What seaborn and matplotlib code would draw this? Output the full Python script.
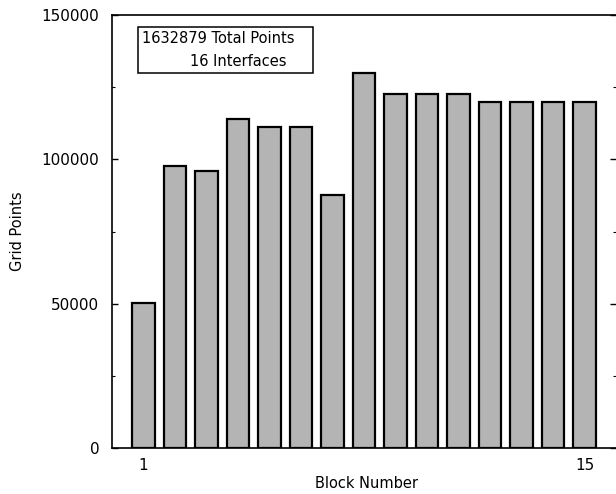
import pandas as pd
import matplotlib.pyplot as plt
import seaborn as sns
from matplotlib.patches import Rectangle
from matplotlib.ticker import MultipleLocator

# grid points per block
blocks = list(range(1, 16))
grid_points = [50300, 97800, 96100, 114100, 111200, 111200, 87600, 130000,
               122500, 122500, 122500, 119700, 119700, 119700, 119700]
x_ticks = [1, 15]
y_ticks = [0, 50000, 100000, 150000]
box_lines = ["1632879 Total Points", "16 Interfaces"]

df = pd.DataFrame({"block": blocks, "points": grid_points})

sns.set_style("ticks")
plt.rcParams["font.family"] = ["DejaVu Sans"]
plt.rcParams["text.color"] = "black"
plt.rcParams["axes.labelcolor"] = "black"
plt.rcParams["xtick.color"] = "black"
plt.rcParams["ytick.color"] = "black"
plt.rcParams["axes.edgecolor"] = "black"

fig = plt.figure(figsize=(6.16, 4.94), dpi=100)
ax = fig.add_axes([0.1818, 0.0931, 0.8182, 0.8765])

sns.barplot(data=df, x="block", y="points", native_scale=True, width=0.7,
            color="#b4b4b4", saturation=1, edgecolor="black", linewidth=1.6,
            errorbar=None, ax=ax)

ax.set_xlim(0, 16)
ax.set_ylim(0, 150000)
ax.set_xticks(x_ticks)
ax.set_xticklabels([str(t) for t in x_ticks])
ax.set_yticks(y_ticks)
ax.set_yticklabels([str(t) for t in y_ticks])
ax.yaxis.set_minor_locator(MultipleLocator(25000))

ax.tick_params(axis="x", length=0, pad=7, labelsize=11)
ax.tick_params(axis="y", which="major", direction="in", length=4, width=1,
               right=True, pad=9, labelsize=11)
ax.tick_params(axis="y", which="minor", direction="in", length=2, width=0.8,
               right=True)

for side in ["left", "bottom", "top"]:
    ax.spines[side].set_linewidth(1.2)
ax.spines["right"].set_visible(False)

ax.set_xlabel("Block Number", fontsize=10.5)
ax.set_ylabel("Grid Points", fontsize=10.5)
ax.xaxis.set_label_coords(0.504, -0.064)
ax.yaxis.set_label_coords(-0.172, 0.5)

# annotation box in the top-left corner
ax.add_patch(Rectangle((0.0516, 0.866), 0.347, 0.106, transform=ax.transAxes,
                       facecolor="white", edgecolor="black", linewidth=1.1,
                       zorder=5))
ax.text(0.0595, 0.946, box_lines[0], transform=ax.transAxes, fontsize=10.5,
        va="center", ha="left", zorder=6)
ax.text(0.155, 0.893, box_lines[1], transform=ax.transAxes, fontsize=10.5,
        va="center", ha="left", zorder=6)

fig.savefig("out.png", dpi=100)
